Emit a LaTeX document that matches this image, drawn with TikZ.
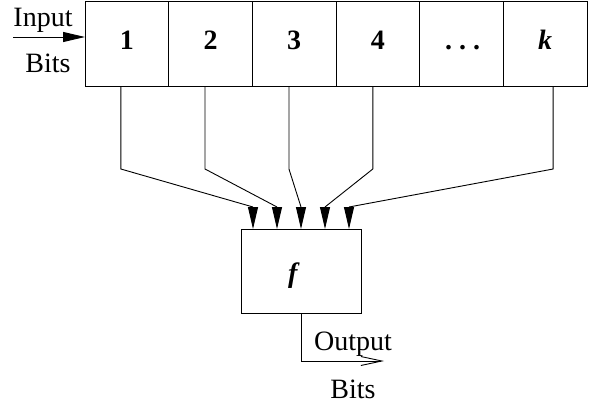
\documentclass[tikz,border=0pt]{standalone}
\usepackage{fontspec}
\setmainfont{Liberation Serif}
\usetikzlibrary{arrows.meta}
\begin{document}
\begin{tikzpicture}[x=1pt,y=-1pt,
  every node/.style={font=\fontsize{28}{30}\selectfont},
  cell/.style={draw,line width=1pt,minimum width=83.67pt,minimum height=84pt,inner sep=0pt,outer sep=0pt,anchor=north west},
  lbl/.style={anchor=base,inner sep=0pt},
  wire/.style={line width=0.9pt},
  arr/.style={wire,-{Triangle[length=22pt,width=10pt]}},
  oarr/.style={wire,-{Straight Barb[length=21pt,width=9pt,line width=0.9pt]}}]
\useasboundingbox (0,0) rectangle (589,404);
% register
\node[cell] (c1) at (85,2) {};
\node[cell] (c2) at (168.67,2) {};
\node[cell] (c3) at (252.33,2) {};
\node[cell] (c4) at (336,2) {};
\node[cell] (c5) at (419.67,2) {};
\node[cell] (c6) at (503.33,2) {};
\node[lbl] (t1) at (126.8,50) {\textbf{1}};
\node[lbl] (t2) at (210.5,50) {\textbf{2}};
\node[lbl] (t3) at (294.2,50) {\textbf{3}};
\node[lbl] (t4) at (377.8,50) {\textbf{4}};
\node[lbl] (t5) at (462.5,50) {\textbf{.\hspace{7pt}.\hspace{7pt}.}};
\node[lbl] (t6) at (545,50) {\textbf{\textit{k}}};
% function box
\node[draw,line width=1pt,minimum width=120pt,minimum height=84pt,inner sep=0pt,outer sep=0pt] (f) at (301,271) {};
\node[lbl] (tf) at (294,282) {\textbf{\textit{f}}};
% input
\coordinate (in) at (13,37);
\draw[arr] (in) -- (in -| c1.west);
\node[lbl] (lin) at (43,27) {Input};
\node[lbl] (lbits) at (48,73) {Bits};
% taps
\draw[wire] ([xshift=-6pt]c1.south) -- ++(0,83) -- ([xshift=-48pt,yshift=22pt]f.north);
\draw[arr] ([xshift=-48pt,yshift=22pt]f.north) -- ([xshift=-48pt]f.north);
\draw[wire] ([xshift=-5.5pt]c2.south) -- ++(0,83) -- ([xshift=-24pt,yshift=22pt]f.north);
\draw[arr] ([xshift=-24pt,yshift=22pt]f.north) -- ([xshift=-24pt]f.north);
\draw[wire] ([xshift=-5.2pt]c3.south) -- ++(0,83) -- ([yshift=22pt]f.north);
\draw[arr] ([yshift=22pt]f.north) -- (f.north);
\draw[wire] ([xshift=-5pt]c4.south) -- ++(0,83) -- ([xshift=24pt,yshift=22pt]f.north);
\draw[arr] ([xshift=24pt,yshift=22pt]f.north) -- ([xshift=24pt]f.north);
\draw[wire] ([xshift=8pt]c6.south) -- ++(0,83) -- ([xshift=48pt,yshift=22pt]f.north);
\draw[arr] ([xshift=48pt,yshift=22pt]f.north) -- ([xshift=48pt]f.north);
% output
\draw[oarr] (f.south) -- ++(0,48) -- ++(83,0);
\node[lbl] (lout) at (353,350) {Output};
\node[lbl] (obits) at (353,398) {Bits};
\end{tikzpicture}
\end{document}
